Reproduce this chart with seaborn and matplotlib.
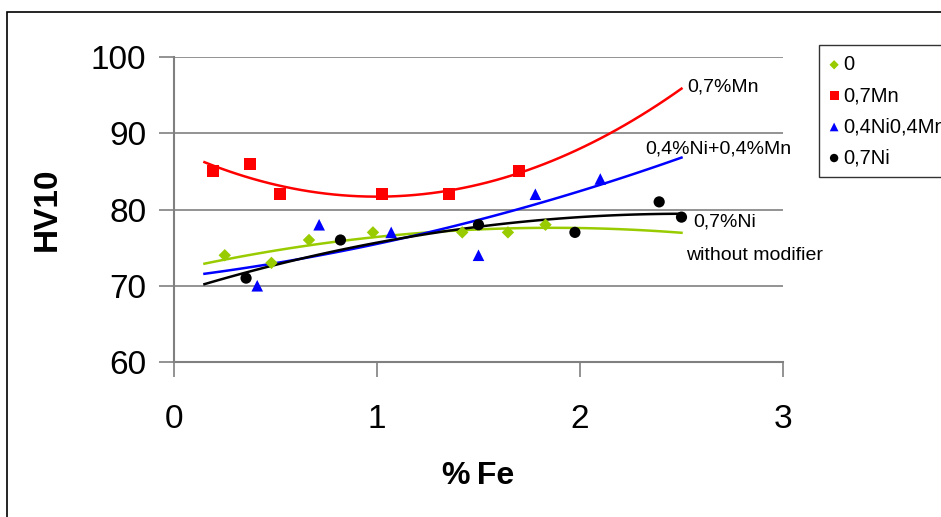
import numpy as np
import pandas as pd
import matplotlib
matplotlib.use("Agg")
import matplotlib.pyplot as plt
from matplotlib.patches import Rectangle
import seaborn as sns

# ---- data ----
series_names = ["0", "0,7Mn", "0,4Ni0,4Mn", "0,7Ni"]

fe_0 = [0.25, 0.48, 0.665, 0.98, 1.42, 1.645, 1.83]
hv_0 = [74, 73, 76, 77, 77, 77, 78]

fe_mn = [0.19, 0.375, 0.52, 1.025, 1.355, 1.70]
hv_mn = [85, 86, 82, 82, 82, 85]

fe_nimn = [0.41, 0.715, 1.07, 1.50, 1.78, 2.10]
hv_nimn = [70, 78, 77, 74, 82, 84]

fe_ni = [0.355, 0.82, 1.50, 1.975, 2.39, 2.50]
hv_ni = [71, 76, 78, 77, 81, 79]

trend_labels = ["without modifier", "0,7%Mn", "0,4%Ni+0,4%Mn", "0,7%Ni"]
x_ticks = [0, 1, 2, 3]
y_ticks = [60, 70, 80, 90, 100]

colors = {"0": "#99cc00", "0,7Mn": "#ff0000", "0,4Ni0,4Mn": "#0000ff", "0,7Ni": "#000000"}
markers = {"0": "D", "0,7Mn": "s", "0,4Ni0,4Mn": "^", "0,7Ni": "o"}
sizes = {"0": 40, "0,7Mn": 75, "0,4Ni0,4Mn": 70, "0,7Ni": 65}

xs = [fe_0, fe_mn, fe_nimn, fe_ni]
ys = [hv_0, hv_mn, hv_nimn, hv_ni]

pts = pd.DataFrame({
    "Fe": np.concatenate(xs),
    "HV": np.concatenate(ys),
    "series": np.concatenate([[n] * len(x) for n, x in zip(series_names, xs)]),
})

# polynomial (order 2) trend lines, like the spreadsheet trendlines
xx = np.linspace(0.15, 2.5, 60)
tl = []
for n, x, y in zip(series_names, xs, ys):
    c = np.polyfit(x, y, 2)
    tl.append(pd.DataFrame({"Fe": xx, "HV": np.polyval(c, xx), "series": n}))
trend = pd.concat(tl, ignore_index=True)

plt.rcParams["font.family"] = ["Liberation Sans", "DejaVu Sans"]
W, H = 941, 517
fig = plt.figure(figsize=(W / 100, H / 100), dpi=100)
ax = fig.add_axes([174 / W, 1 - 362 / H, (783 - 174) / W, (362 - 57) / H])

sns.lineplot(data=trend, x="Fe", y="HV", hue="series", palette=colors,
             hue_order=series_names, legend=False, ax=ax, linewidth=1.8)
for n in series_names:
    sub = pts[pts.series == n]
    sns.scatterplot(data=sub, x="Fe", y="HV", color=colors[n], marker=markers[n],
                    s=sizes[n], edgecolor="none", ax=ax, label=n, zorder=5)

ax.set_xlim(0, 3)
ax.set_ylim(60, 100)
ax.set_xticks(x_ticks)
ax.set_yticks(y_ticks)
ax.tick_params(labelsize=24, length=11, width=1.2, color="#808080")
ax.tick_params(axis="y", pad=9)
ax.tick_params(axis="x", pad=19)
for s in ["top", "right"]:
    ax.spines[s].set_visible(False)
for s in ["left", "bottom"]:
    ax.spines[s].set_color("#808080")
    ax.spines[s].set_linewidth(1.5)
ax.yaxis.grid(True, color="#808080", linewidth=1.2)
ax.set_axisbelow(True)
ax.set_xlabel("%\u2009Fe", fontsize=23, fontweight="bold")
ax.set_ylabel("HV10", fontsize=24, fontweight="bold")
ax.xaxis.set_label_coords(0.5, -0.325)
ax.yaxis.set_label_coords(-0.182, 0.5)

# end labels of trend lines
fs = 14
ax.text(2.53, 96.0, trend_labels[1], fontsize=fs, va="center", ha="left")
ax.text(2.32, 87.9, trend_labels[2], fontsize=fs, va="center", ha="left")
ax.text(2.56, 78.3, trend_labels[3], fontsize=fs, va="center", ha="left")
ax.text(2.52, 73.95, trend_labels[0], fontsize=fs, va="center", ha="left")
for t in ax.texts:
    t.set_clip_on(False)

handles, labels = ax.get_legend_handles_labels()
if ax.legend_:
    ax.legend_.remove()
leg = fig.legend(handles, labels, loc="upper left", bbox_to_anchor=(819 / W, 1 - 45 / H),
                 borderaxespad=0, frameon=True, fancybox=False, edgecolor="black",
                 fontsize=14.5, handlelength=0.5, handletextpad=0.2, labelspacing=0.6,
                 borderpad=0.5, markerscale=0.75)
leg.get_frame().set_linewidth(1.0)

fig.patches.append(Rectangle((7 / W, -0.1), 1.5, 1 - 12 / H + 0.1, transform=fig.transFigure,
                             fill=False, edgecolor="black", linewidth=1.2))

fig.savefig("out.png", dpi=100)
